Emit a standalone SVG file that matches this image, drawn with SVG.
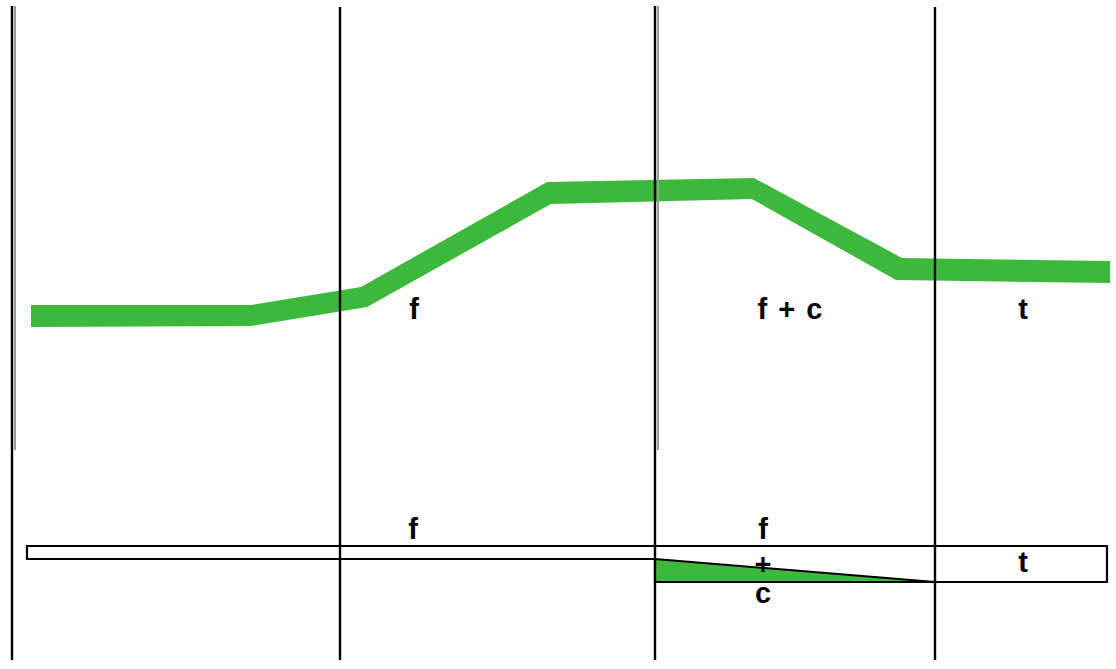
<svg xmlns="http://www.w3.org/2000/svg" width="1116" height="669" viewBox="0 0 1116 669">
<style>
.v{stroke:#000;stroke-width:2.4;fill:none}
.g{stroke:#9a9a9a;stroke-width:2;fill:none}
.lbl{font-family:"Liberation Sans",Arial,sans-serif;font-weight:bold;font-size:29px;fill:#000;text-anchor:middle}
.box{fill:#fff;stroke:#000;stroke-width:2.2}
</style>
<rect width="1116" height="669" fill="#fff"/>
<g id="band">
<polygon points="31,305 251,305 361,287 547,182 754,178 902,258 1110,261 1110,283 896,280 752,199 551,204 367,307 251,326 31,327" fill="#3cb83a"/>
</g>
<g id="bar">
<polygon class="box" points="27,546 1107,546 1107,582 655,582 655,559 27,559"/>
<polygon points="655,559 935,582 655,582" fill="#3cb83a" stroke="#000" stroke-width="2"/>
</g>
<g id="connectors">
<line class="v" x1="12" y1="6" x2="12" y2="660"/>
<line class="g" x1="15" y1="6" x2="15" y2="450"/>
<line class="v" x1="340" y1="7" x2="340" y2="660"/>
<line class="v" x1="655" y1="6" x2="655" y2="660"/>
<line class="g" x1="658" y1="6" x2="658" y2="450"/>
<line class="v" x1="935" y1="7" x2="935" y2="660"/>
</g>
<g id="labels">
<text class="lbl" x="414" y="319">f</text>
<text class="lbl" x="790" y="319" word-spacing="3">f + c</text>
<text class="lbl" x="1023" y="319">t</text>
<text class="lbl" x="413" y="539">f</text>
<text class="lbl" x="763" y="539">f</text>
<text class="lbl" x="763" y="574">+</text>
<text class="lbl" x="763" y="603">c</text>
<text class="lbl" x="1023" y="572">t</text>
</g>
</svg>
